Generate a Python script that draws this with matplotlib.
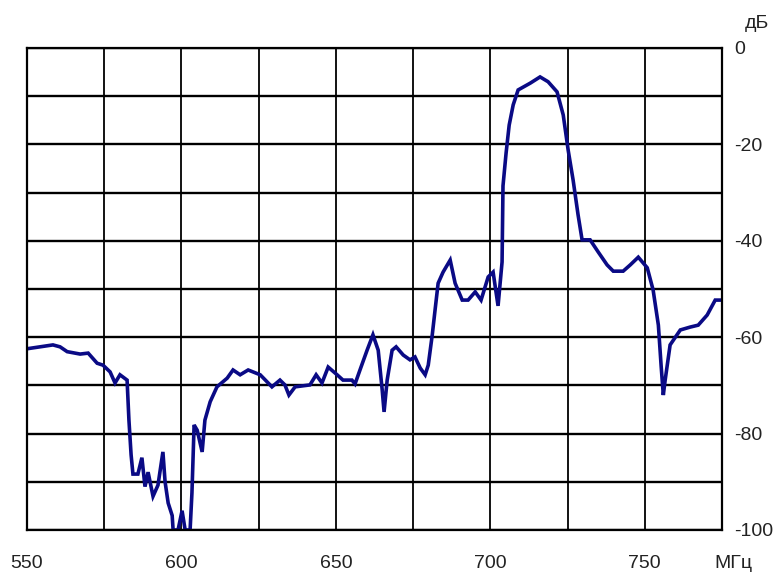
import numpy as np
import matplotlib.pyplot as plt

plt.rcParams['font.family'] = ['Liberation Sans', 'DejaVu Sans']

# frequency response
freq = [550.0, 558.4, 560.7, 563.0, 567.2, 569.8, 572.7, 574.6, 576.9, 578.5,
        580.1, 582.4, 583.0, 583.7, 584.3, 585.9, 587.2, 588.2, 589.2, 590.8,
        592.4, 594.0, 594.7, 595.7, 597.0, 597.3, 598.9, 600.2, 601.2, 602.8,
        603.4, 604.1, 605.1, 606.7, 607.6, 609.3, 611.5, 614.8, 616.7, 619.0,
        621.6, 625.5, 629.3, 631.9, 633.5, 634.8, 636.8, 641.6, 643.6, 645.5,
        647.5, 650.4, 652.3, 655.2, 656.2, 657.8, 660.1, 662.0, 663.7, 665.0,
        665.6, 666.6, 668.2, 669.5, 671.8, 674.0, 675.6, 677.3, 678.9, 679.9,
        681.2, 682.1, 683.1, 684.7, 687.0, 688.6, 690.9, 692.8, 695.1, 697.0,
        699.3, 700.9, 702.5, 703.8, 704.1, 705.1, 706.1, 707.4, 709.0, 712.9,
        716.1, 718.7, 721.6, 723.6, 725.2, 726.8, 728.4, 729.7, 732.3, 734.9,
        737.8, 739.8, 743.0, 745.3, 747.9, 750.8, 752.7, 754.4, 755.3, 756.0,
        756.6, 758.2, 761.5, 764.7, 767.3, 770.2, 772.8, 774.4]
level = [-62.4, -61.6, -62.0, -63.0, -63.5, -63.3, -65.4, -65.8, -67.2, -69.5,
         -67.8, -68.9, -77.2, -84.4, -88.4, -88.4, -85.0, -91.0, -88.0, -93.0,
         -90.7, -83.8, -90.0, -94.4, -97.0, -100.0, -100.0, -96.0, -100.0, -100.0,
         -92.3, -78.2, -79.3, -83.8, -77.2, -73.4, -70.3, -68.5, -66.8, -67.8,
         -66.8, -67.8, -70.3, -68.9, -69.9, -72.0, -70.3, -69.9, -67.8, -69.5,
         -66.2, -67.8, -68.9, -68.9, -69.7, -66.8, -62.7, -59.5, -62.7, -71.0,
         -75.5, -68.9, -62.7, -62.0, -63.7, -64.7, -64.1, -66.4, -67.8, -65.8,
         -59.5, -54.4, -48.8, -46.5, -44.0, -48.8, -52.3, -52.3, -50.6, -52.3,
         -47.5, -46.5, -53.5, -44.4, -28.6, -21.8, -16.0, -11.8, -8.7, -7.3,
         -6.0, -7.0, -9.1, -13.9, -21.2, -27.4, -34.6, -39.8, -39.8, -42.3,
         -45.0, -46.3, -46.3, -45.0, -43.4, -45.6, -50.2, -57.5, -66.0, -72.0,
         -68.9, -61.6, -58.5, -57.9, -57.5, -55.4, -52.3, -52.3]

xgrid = np.arange(550, 776, 25)
xlabels = ["550", "", "600", "", "650", "", "700", "", "750", ""]
ygrid = np.arange(-100, 1, 10)
ylabels = ["-100", "", "-80", "", "-60", "", "-40", "", "-20", "", "0"]

fig = plt.figure(figsize=(7.76, 5.73), dpi=100)
ax = fig.add_axes([27/776, 43/573, 695/776, 482/573])

ax.plot(freq, level, color="#0a0a85", lw=2.6, solid_joinstyle="miter")

ax.set_xlim(550, 775)
ax.set_ylim(-100, 0)
ax.set_xticks(xgrid)
ax.set_xticklabels(xlabels)
ax.set_yticks(ygrid)
ax.set_yticklabels(ylabels)
ax.yaxis.tick_right()
ax.tick_params(axis="x", length=0, pad=18, labelsize=14, labelcolor="#222222")
ax.tick_params(axis="y", length=0, pad=9, labelsize=14, labelcolor="#222222")
for lab in ax.get_yticklabels():
    lab.set_horizontalalignment("left")
ax.grid(True, axis="y", color="black", lw=1.7)
ax.grid(True, axis="x", color="black", lw=1.3)
ax.set_axisbelow(True)
for s in ax.spines.values():
    s.set_linewidth(1.6)
    s.set_color("black")

fig.text(733/776, 1 - 564/573, "МГц", fontsize=14, color="#222222", ha="center", va="center")
fig.text(757/776, 1 - 23/573, "дБ", fontsize=14, color="#222222", ha="center", va="center")

fig.savefig("out.png", dpi=100)
